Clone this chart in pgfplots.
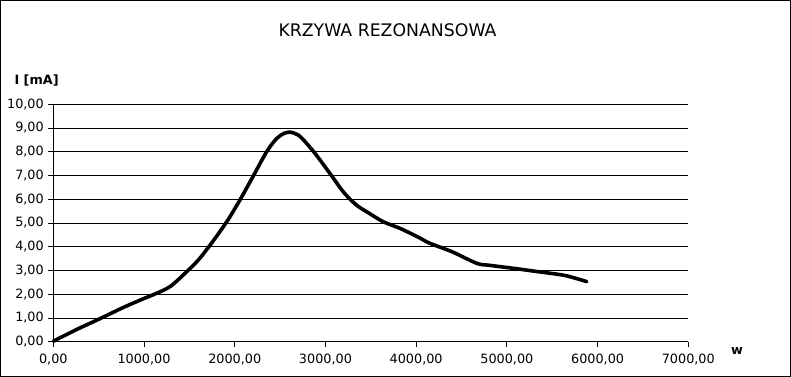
\documentclass[border=0pt]{standalone}
\usepackage{pgfplots}
\pgfplotsset{compat=1.18}
\usepackage{fontspec}
\setmainfont{DejaVu Sans}
\begin{document}
\begin{tikzpicture}
\path[use as bounding box] (0,0) rectangle (791bp,377bp);
\draw[line width=1bp] (0.5bp,0.5bp) rectangle (790.5bp,376.5bp);
\begin{axis}[
  at={(53.3bp,35.3bp)}, anchor=origin,
  scale only axis, width=635bp, height=237.5bp,
  xmin=0, xmax=7000, ymin=0, ymax=10,
  axis x line*=bottom, axis y line*=left,
  axis line style={line width=0.8bp, -},
  xtick={0,1000,...,7000}, ytick={0,1,...,10},
  tick align=outside, major tick length=5bp,
  tick style={line width=0.8bp, black},
  ymajorgrids, grid style={line width=0.8bp, black},
  /pgf/number format/assume math mode=true,
  /pgf/number format/.cd, fixed, fixed zerofill, precision=2, use comma, 1000 sep={},
  /pgfplots/.cd,
  tick label style={font=\fontsize{12.8bp}{14bp}\selectfont},
  xticklabel style={yshift=-4bp},
  yticklabel style={xshift=-1bp},
  clip=false,
]
\addplot[black, line width=3.6bp, line cap=round, line join=round, smooth, tension=0.5] coordinates {
(0,0.02) (250,0.5) (515,0.97) (760,1.42) (1000,1.82) (1103,1.98) (1287,2.32)
(1471,2.95) (1599,3.44) (1709,3.97) (1819,4.54) (1929,5.15) (2058,5.97)
(2205,6.98) (2352,8.0) (2463,8.56) (2550,8.78) (2620,8.82) (2700,8.7)
(2757,8.5) (2885,7.93) (3069,6.98) (3180,6.39) (3271,6.0) (3360,5.7) (3455,5.47)
(3638,5.05) (3823,4.77) (4024,4.4) (4153,4.14) (4400,3.78) (4668,3.3)
(4800,3.22) (5072,3.09) (5300,2.97) (5440,2.9) (5650,2.78) (5881,2.53)
};
\end{axis}
\node[font=\fontsize{17.3bp}{19bp}\selectfont] at (387.5bp,347bp) {KRZYWA REZONANSOWA};
\node[font=\bfseries\fontsize{12.8bp}{14bp}\selectfont, anchor=west] at (11bp,297bp) {I [mA]};
\node[font=\bfseries\fontsize{12.8bp}{14bp}\selectfont] at (737bp,26bp) {w};
\end{tikzpicture}
\end{document}
